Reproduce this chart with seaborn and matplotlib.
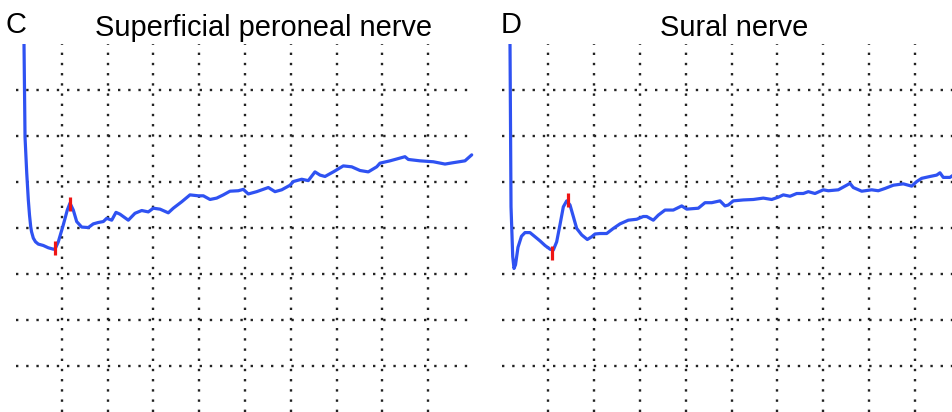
import numpy as np
import pandas as pd
import matplotlib
matplotlib.use("Agg")
import matplotlib.pyplot as plt
import seaborn as sns

# ---- data (x in divisions, y in divisions; 0 = centre line) ----
c_time = [0.17, 0.175, 0.197, 0.234, 0.269, 0.295, 0.321, 0.339, 0.378, 0.426, 0.487, 0.596, 0.705,
          0.814, 0.852, 0.924, 1.033, 1.120, 1.179, 1.251, 1.325, 1.434, 1.579, 1.688, 1.797,
          1.906, 1.980, 2.090, 2.183, 2.271, 2.452, 2.598, 2.745, 2.889, 2.998, 3.144, 3.325,
          3.434, 3.618, 3.799, 3.980, 4.090, 4.236, 4.382, 4.526, 4.672, 4.854, 4.963, 5.072,
          5.255, 5.509, 5.655, 5.801, 5.983, 6.055, 6.238, 6.382, 6.528, 6.638, 6.747, 6.928,
          7.146, 7.330, 7.511, 7.692, 7.876, 7.948, 8.166, 8.312, 8.493, 8.566, 8.821, 9.111,
          9.367, 9.548, 9.803, 9.950]
c_amp = [4.30, 3.98, 1.98, 1.20, 0.61, 0.28, 0.03, -0.08, -0.22, -0.30, -0.35, -0.38, -0.43,
         -0.46, -0.46, -0.30, 0.07, 0.39, 0.54, 0.39, 0.14, 0.02, 0.01, 0.09, 0.12,
         0.14, 0.21, 0.17, 0.34, 0.30, 0.17, 0.32, 0.38, 0.35, 0.43, 0.41, 0.33,
         0.43, 0.57, 0.72, 0.70, 0.70, 0.62, 0.65, 0.72, 0.80, 0.81, 0.84, 0.74,
         0.79, 0.88, 0.79, 0.83, 0.93, 1.01, 1.06, 1.03, 1.22, 1.15, 1.12, 1.22,
         1.35, 1.33, 1.25, 1.22, 1.33, 1.41, 1.46, 1.50, 1.55, 1.49, 1.46, 1.44,
         1.39, 1.42, 1.46, 1.59]

d_time = [0.16, 0.164, 0.186, 0.201, 0.223, 0.251, 0.284, 0.338, 0.414, 0.491, 0.600, 0.710,
          0.819, 0.928, 1.037, 1.109, 1.183, 1.255, 1.328, 1.402, 1.474, 1.546, 1.620, 1.729,
          1.852, 1.948, 2.020, 2.129, 2.275, 2.419, 2.566, 2.747, 2.930, 3.074, 3.148, 3.293,
          3.402, 3.548, 3.729, 3.913, 4.022, 4.275, 4.421, 4.568, 4.749, 4.858, 4.930, 5.039,
          5.258, 5.476, 5.694, 5.878, 6.022, 6.131, 6.277, 6.424, 6.568, 6.677, 6.823, 7.004,
          7.114, 7.332, 7.478, 7.587, 7.659, 7.843, 8.061, 8.205, 8.352, 8.533, 8.751, 8.934,
          9.044, 9.153, 9.334, 9.480, 9.552, 9.624, 9.770, 9.843]
d_amp = [4.30, 3.98, 0.46, 0.03, -0.62, -0.88, -0.80, -0.42, -0.18, -0.10, -0.10, -0.19,
         -0.28, -0.38, -0.46, -0.48, -0.30, 0.07, 0.46, 0.59, 0.50, 0.25, -0.01, -0.15,
         -0.25, -0.19, -0.13, -0.12, -0.12, -0.01, 0.09, 0.17, 0.19, 0.25, 0.25, 0.17,
         0.28, 0.39, 0.39, 0.48, 0.41, 0.43, 0.55, 0.55, 0.59, 0.48, 0.50, 0.59,
         0.61, 0.62, 0.65, 0.62, 0.67, 0.72, 0.69, 0.75, 0.75, 0.79, 0.75, 0.83,
         0.81, 0.83, 0.91, 0.97, 0.88, 0.80, 0.83, 0.81, 0.86, 0.93, 0.96, 0.91,
         1.01, 1.08, 1.12, 1.15, 1.20, 1.10, 1.10, 1.15]

c_marker_time = [0.852, 1.186]
c_marker_amp = [-0.43, 0.52]
d_marker_time = [1.087, 1.424]
d_marker_amp = [-0.55, 0.61]

panel_letters = ["C", "D"]
panel_titles = ["Superficial peroneal nerve", "Sural nerve"]
x_ticks = [1, 2, 3, 4, 5, 6, 7, 8, 9]
y_ticks = [-3, -2, -1, 0, 1, 2, 3]

# ---- style ----
sns.set_style("white")
plt.rcParams["font.family"] = ["Liberation Sans", "DejaVu Sans"]

W, H = 953, 412
fig = plt.figure(figsize=(W / 100, H / 100), dpi=100)

trace_color = "#2f52f2"
marker_color = "#ee1515"
grid_color = "#222222"

ax_w = 458 / W
ax_h = 368 / H
axes = [fig.add_axes([16 / W, 0, ax_w, ax_h]),
        fig.add_axes([502.5 / W, 0, ax_w, ax_h])]

traces = [(c_time, c_amp, c_marker_time, c_marker_amp),
          (d_time, d_amp, d_marker_time, d_marker_amp)]

for ax, (t, a, mt, ma) in zip(axes, traces):
    df = pd.DataFrame({"time": t, "amp": a})
    ax.set_xlim(0, 10)
    ax.set_ylim(-4, 4)
    ax.set_xticks(x_ticks)
    ax.set_yticks(y_ticks)
    ax.grid(True, color=grid_color, linewidth=1.7, linestyle=(0, (1, 3.32)),
            dash_capstyle="butt")
    ax.set_axisbelow(True)
    sns.lineplot(data=df, x="time", y="amp", ax=ax, color=trace_color,
                 linewidth=2.3, sort=False, estimator=None, zorder=3)
    mdf = pd.DataFrame({"time": mt, "amp": ma})
    ax.plot(mdf["time"], mdf["amp"], linestyle="none", marker="|",
            markersize=9.5, markeredgewidth=2.3, color=marker_color, zorder=4)
    ax.tick_params(length=0, labelbottom=False, labelleft=False)
    ax.set_xlabel("")
    ax.set_ylabel("")
    for s in ax.spines.values():
        s.set_visible(False)
    ax.set_facecolor("none")

# panel letters and titles
fs = 20.9
fig.text(6 / W, 1 - 33.3 / H, panel_letters[0], fontsize=fs, va="baseline", ha="left", color="black")
fig.text(95 / W, 1 - 36 / H, panel_titles[0], fontsize=fs, va="baseline", ha="left", color="black")
fig.text(500.5 / W, 1 - 33.3 / H, panel_letters[1], fontsize=fs, va="baseline", ha="left", color="black")
fig.text(660 / W, 1 - 36 / H, panel_titles[1], fontsize=fs, va="baseline", ha="left", color="black")

fig.savefig("out.png", dpi=100, facecolor="white")
